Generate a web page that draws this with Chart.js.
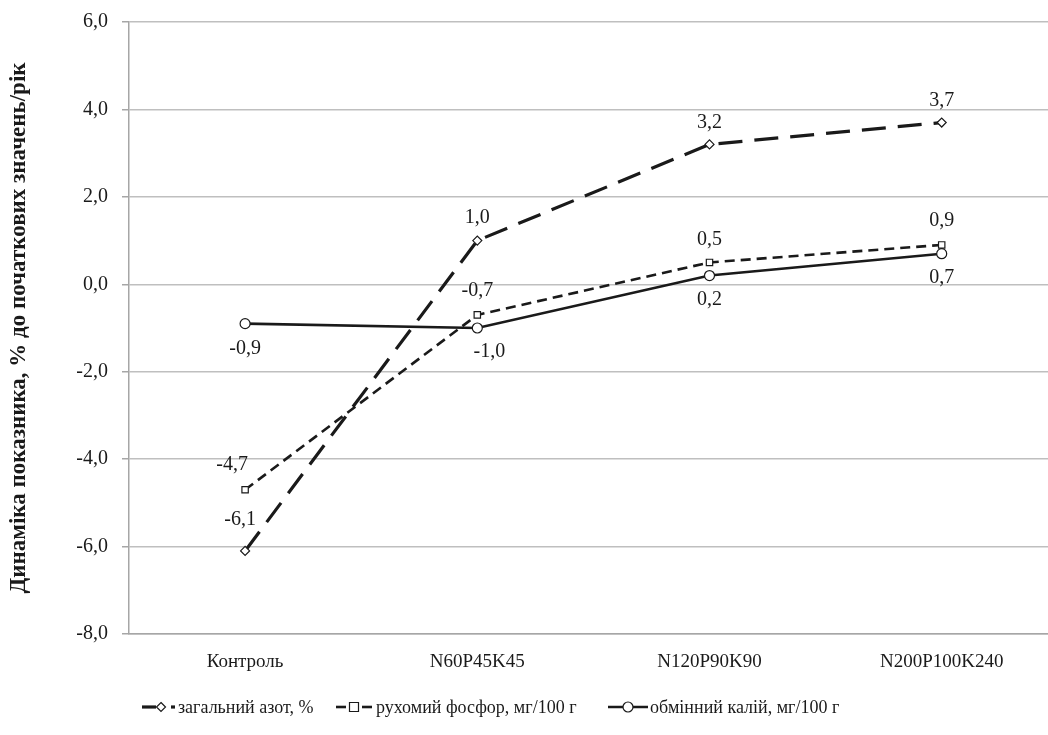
<!DOCTYPE html>
<html>
<head>
<meta charset="utf-8">
<script src="https://cdn.jsdelivr.net/npm/chart.js@4.4.1/dist/chart.umd.min.js"></script>
<style>
  html, body { margin: 0; padding: 0; background: #fff; overflow: hidden; }
  #wrap { width: 1064px; height: 735px; }
</style>
</head>
<body>
<div id="wrap"><canvas id="grafik" width="1064" height="735"></canvas></div>
<script>
const kategorii = ['Контроль', 'N60P45K45', 'N120P90K90', 'N200P100K240'];
const azot = [-6.1, 1.0, 3.2, 3.7];
const fosfor = [-4.7, -0.7, 0.5, 0.9];
const kalii = [-0.9, -1.0, 0.2, 0.7];
const nazvy = ['загальний азот, %', 'рухомий фосфор, мг/100 г', 'обмінний калій, мг/100 г'];
const yTicks = [-8, -6, -4, -2, 0, 2, 4, 6];

const shryft = '"Liberation Serif", "Times New Roman", serif';
const chornyi = '#1a1a1a';

function koma(v) { return v.toFixed(1).replace('.', ','); }

function drawMarker(ctx, style, r, x, y) {
  ctx.beginPath();
  if (style === 'circle') {
    ctx.arc(x, y, r, 0, Math.PI * 2);
  } else if (style === 'rect') {
    ctx.rect(x - r, y - r, 2 * r, 2 * r);
  } else {
    ctx.moveTo(x, y - r); ctx.lineTo(x + r, y); ctx.lineTo(x, y + r); ctx.lineTo(x - r, y); ctx.closePath();
  }
  ctx.fill();
  ctx.stroke();
}

// підписи значень біля точок
const pidpysy = {
  id: 'pidpysy',
  afterDatasetsDraw(chart) {
    const ctx = chart.ctx;
    ctx.save();
    ctx.font = '20px ' + shryft;
    ctx.fillStyle = chornyi;
    ctx.textAlign = 'center';
    ctx.textBaseline = 'middle';
    chart.data.datasets.forEach((ds, i) => {
      const meta = chart.getDatasetMeta(i);
      meta.data.forEach((pt, j) => {
        const zsuv = ds.zsuv[j];
        ctx.fillText(koma(ds.data[j]), pt.x + zsuv[0], pt.y + zsuv[1]);
      });
    });
    ctx.restore();
  }
};

// легенда внизу: відрізки лінії, маркер, текст
const lehenda = {
  id: 'lehenda',
  afterDraw(chart) {
    const ctx = chart.ctx;
    const y = 707;
    const vidrizky = [
      [[142, 156], [171, 175]],
      [[336, 346], [362, 372]],
      [[608, 648]]
    ];
    const tsentr = [161, 354, 628];
    const tekst = [178, 376, 650];
    ctx.save();
    chart.data.datasets.forEach((ds, i) => {
      ctx.strokeStyle = chornyi;
      ctx.lineWidth = ds.borderWidth;
      vidrizky[i].forEach(([a, b]) => {
        ctx.beginPath();
        ctx.moveTo(a, y);
        ctx.lineTo(b, y);
        ctx.stroke();
      });
      ctx.fillStyle = '#fff';
      ctx.lineWidth = 1.2;
      drawMarker(ctx, ds.pointStyle, ds.pointRadius, tsentr[i], y);
      ctx.font = '18px ' + shryft;
      ctx.fillStyle = chornyi;
      ctx.textBaseline = 'middle';
      ctx.fillText(nazvy[i], tekst[i], y + 1);
    });
    ctx.restore();
  }
};

new Chart(document.getElementById('grafik'), {
  type: 'line',
  data: {
    labels: kategorii,
    datasets: [
      {
        label: nazvy[0], data: azot,
        borderColor: chornyi, borderWidth: 3.2, borderDash: [24, 12],
        pointStyle: 'rectRot', pointRadius: 4.5, pointBackgroundColor: '#fff',
        pointBorderColor: chornyi, pointBorderWidth: 1.2, tension: 0,
        zsuv: [[-5, -31], [0, -23], [0, -22], [0, -22]]
      },
      {
        label: nazvy[1], data: fosfor,
        borderColor: chornyi, borderWidth: 2.6, borderDash: [10, 6],
        pointStyle: 'rect', pointRadius: 4.5, pointBackgroundColor: '#fff',
        pointBorderColor: chornyi, pointBorderWidth: 1.2, tension: 0,
        zsuv: [[-13, -25], [0, -24], [0, -23], [0, -24]]
      },
      {
        label: nazvy[2], data: kalii,
        borderColor: chornyi, borderWidth: 2.6,
        pointStyle: 'circle', pointRadius: 5, pointBackgroundColor: '#fff',
        pointBorderColor: chornyi, pointBorderWidth: 1.2, tension: 0,
        zsuv: [[0, 25], [12, 24], [0, 24], [0, 24]]
      }
    ]
  },
  options: {
    responsive: false,
    animation: false,
    layout: { padding: { left: 5, top: 22, right: 0, bottom: 60 } },
    plugins: {
      legend: { display: false },
      tooltip: { enabled: false }
    },
    scales: {
      x: {
        offset: true,
        grid: { display: false, drawTicks: false },
        border: { display: true, color: '#a6a6a6', width: 1.5 },
        ticks: { color: chornyi, font: { family: shryft, size: 19 }, padding: 17, maxRotation: 0 },
        afterFit(s) { s.height = 41; }
      },
      y: {
        min: -8, max: 6,
        afterBuildTicks(s) { s.ticks = yTicks.map(v => ({ value: v })); },
        grid: { color: '#bfbfbf', lineWidth: 1.5, tickLength: 7, tickColor: '#a6a6a6' },
        border: { display: true, color: '#a6a6a6', width: 1.5 },
        ticks: {
          color: chornyi, font: { family: shryft, size: 20 }, padding: 14,
          callback: v => koma(v)
        },
        title: {
          display: true,
          text: 'Динаміка показника, % до початкових значень/рік',
          color: chornyi,
          font: { family: shryft, size: 23, weight: 'bold' },
          padding: { top: 0, bottom: 12 }
        },
        afterFit(s) { s.width = 124; s.paddingTop = 0; s.paddingBottom = 0; }
      }
    }
  },
  plugins: [pidpysy, lehenda]
});
</script>
</body>
</html>
